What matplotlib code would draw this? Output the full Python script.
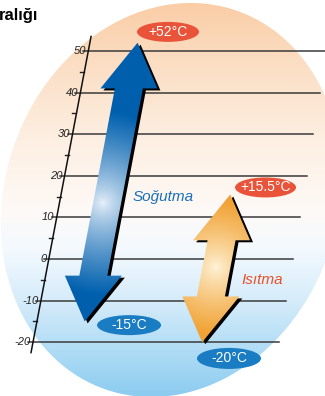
import numpy as np
import matplotlib
matplotlib.use("Agg")
import matplotlib.pyplot as plt
from matplotlib.patches import Polygon, Ellipse

# --- data ---
title = "ralığı"
major_ticks = [-20, -10, 0, 10, 20, 30, 40, 50]
minor_ticks = [-15, -5, 5, 15, 25, 35, 45]
cooling = [-15, 52]       # Soğutma range, deg C
heating = [-20, 15.5]     # Isıtma range, deg C
cooling_name = "Soğutma"
heating_name = "Isıtma"
cooling_tags = ["-15°C", "+52°C"]
heating_tags = ["-20°C", "+15.5°C"]

# --- layout (pixels) ---
W, H = 325, 396
PX = 4.16          # pixels per degree
Y0 = 259           # pixel row of 0 deg
SLANT = 0.79       # sideways drift of the scale, px per degree
T_top = Y0 / PX
T_bot = (Y0 - H) / PX
FONT = ["Liberation Sans", "DejaVu Sans"]


def to_T(y_px):
    return (Y0 - y_px) / PX


def axis_x(t):
    return 48.8 + SLANT * t


fig = plt.figure(figsize=(W / 100, H / 100), dpi=100)
ax = fig.add_axes([0, 0, 1, 1])
ax.set_axis_off()

xs = np.arange(W) + 0.5
ys = np.arange(H) + 0.5
X, Y = np.meshgrid(xs, ys)
TT = to_T(Y)

# background: slanted ellipse, peach on top fading to light blue
stops_y = [0, 60, 140, 215, 250, 300, 350, 396]
stops_c = np.array([[250, 204, 164], [251, 221, 194], [253, 239, 226], [253, 250, 248],
                    [243, 249, 254], [214, 236, 250], [176, 220, 245], [140, 204, 240]]) / 255
bg = np.stack([np.interp(Y, stops_y, stops_c[:, i]) for i in range(3)], axis=-1)
t = np.linspace(0, 2 * np.pi, 300)
cx, cy, a, b, k = 171, 200, 169, 197, 0.1
ell_x = cx + a * np.cos(t) + k * b * np.sin(t)
ell_y = to_T(cy - b * np.sin(t))
ell = Polygon(np.column_stack([ell_x, ell_y]), closed=True, facecolor="none", edgecolor="none")
ax.add_patch(ell)
im = ax.imshow(bg, extent=(0, W, T_bot, T_top), origin="upper", aspect="auto", zorder=0)
im.set_clip_path(ell)

# scale with slanted axis and horizontal lines
for v in major_ticks:
    x_end = min(293 + 0.68 * v, W)
    ax.plot([axis_x(v) - 5, x_end], [v, v], color="#3a3a3a", lw=1.1, zorder=1)
    ax.text(axis_x(v) - 2, v, str(v), ha="right", va="center", fontsize=8,
            style="italic", family=FONT, color="#222222", zorder=2)
for v in minor_ticks:
    ax.plot([axis_x(v) - 4, axis_x(v)], [v, v], color="#222222", lw=1.0, zorder=1)
ax.plot([axis_x(-22.5), axis_x(53.5)], [-22.5, 53.5], color="#111111", lw=1.1, zorder=2)


def arrow_pts(x0, lo, hi, hw=28.5, sw=14, hl=11):
    rel = [(0, hi), (hw, hi - hl), (sw, hi - hl), (sw, lo + hl), (hw, lo + hl), (0, lo),
           (-hw, lo + hl), (-sw, lo + hl), (-sw, hi - hl), (-hw, hi - hl)]
    return np.array([(x0 + SLANT * tv + dx, tv) for dx, tv in rel])


def draw_arrow(x0, rng, light, dark, hl_pt, reach, p):
    pts = arrow_pts(x0, rng[0], rng[1])
    shadow = pts + np.array([3, -2 / PX])
    ax.add_patch(Polygon(shadow, closed=True, facecolor="black", edgecolor="none", zorder=3))
    poly = Polygon(pts, closed=True, facecolor="none", edgecolor="none", zorder=4)
    ax.add_patch(poly)
    d = np.sqrt(((X - hl_pt[0]) / PX) ** 2 + (TT - hl_pt[1]) ** 2)
    f = np.clip(d / reach, 0, 1)[..., None] ** p
    img = np.array(light)[None, None, :] / 255 * (1 - f) + np.array(dark)[None, None, :] / 255 * f
    g = ax.imshow(img, extent=(0, W, T_bot, T_top), origin="upper", aspect="auto", zorder=4)
    g.set_clip_path(poly)


blue_x0, orange_x0 = 96.5, 218
draw_arrow(blue_x0, cooling, (236, 243, 251), (0, 96, 174), (103, 13.5), 22, 0.75)
draw_arrow(orange_x0, heating, (255, 244, 218), (241, 162, 52), (216, -2), 16, 0.8)


def tag(x0, v, txt, dx, dt, w, h, color):
    cxp = x0 + SLANT * v + dx
    ax.add_patch(Ellipse((cxp, v + dt), w, h / PX, facecolor=color, edgecolor="none", zorder=5))
    ax.text(cxp, v + dt, txt, ha="center", va="center", color="white", fontsize=10,
            family=FONT, zorder=6)


red, blue = "#e8533a", "#1a7cc2"
tag(blue_x0, cooling[1], cooling_tags[1], 30.4, 2.6, 62, 20, red)
tag(blue_x0, cooling[0], cooling_tags[0], 44.4, -0.9, 64, 20, blue)
tag(orange_x0, heating[1], heating_tags[1], 35.3, 1.7, 61, 20, red)
tag(orange_x0, heating[0], heating_tags[0], 26.8, -3.9, 64, 21, blue)

ax.text(163, to_T(197), cooling_name, ha="center", va="center", fontsize=11, style="italic",
        family=FONT, color="#1a6fb8", zorder=6)
ax.text(262, to_T(280), heating_name, ha="center", va="center", fontsize=11, style="italic",
        family=FONT, color="#e8502a", zorder=6)

ax.text(-1, to_T(16), title, ha="left", va="center", fontsize=12, fontweight="bold",
        family=FONT, color="black", zorder=6)

ax.set_xlim(0, W)
ax.set_ylim(T_bot, T_top)
fig.savefig("out.png", dpi=100)
